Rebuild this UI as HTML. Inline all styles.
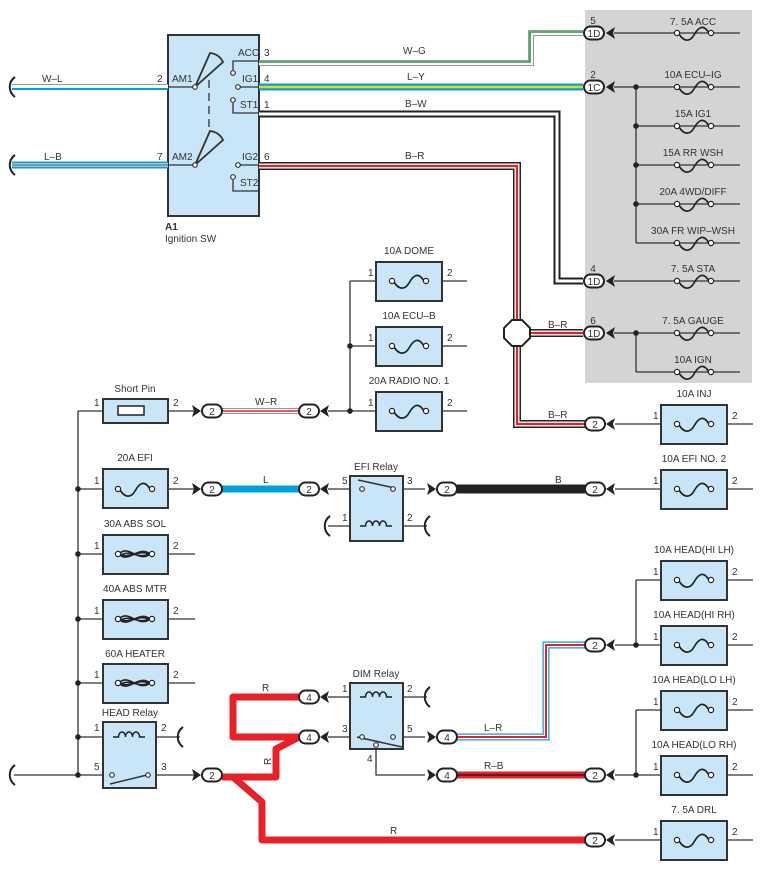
<!DOCTYPE html>
<html><head><meta charset="utf-8"><style>
html,body{margin:0;padding:0;background:#fff}
svg{display:block}
text{font-family:"Liberation Sans",sans-serif;font-size:10px;fill:#333}
</style></head><body>
<svg width="763" height="870" viewBox="0 0 763 870" xmlns="http://www.w3.org/2000/svg">
<defs>
<g id="fz"><path d="M-15,1 C-10,9 -4,9 0,2 S9,-10 15,0" fill="none" stroke="#222" stroke-width="1.7"/><circle cx="-17" cy="0" r="2.6" fill="#fff" stroke="#222" stroke-width="1.2"/><circle cx="17" cy="0" r="2.6" fill="#fff" stroke="#222" stroke-width="1.2"/></g>
<g id="hz"><path d="M-15,1 C-6,9 4,-9 15,0 M-15,-1 C-6,-9 4,9 15,0 M-15,0 C-6,6 5,-6 15,1 M-15,2 C-6,-6 5,7 15,-1" fill="none" stroke="#222" stroke-width="1.6"/><circle cx="-17" cy="0" r="2.6" fill="#fff" stroke="#222" stroke-width="1.2"/><circle cx="17" cy="0" r="2.6" fill="#fff" stroke="#222" stroke-width="1.2"/></g>
<g id="coil"><path d="M-16,0 H-10.5 a3.5,5 0 1 1 7,0 a3.5,5 0 1 1 7,0 a3.5,5 0 1 1 7,0 H16" fill="none" stroke="#222" stroke-width="1.5"/></g>
<rect id="pill" x="-10" y="-6.5" width="20" height="13" rx="6.5" fill="#fff" stroke="#222" stroke-width="2"/>
<polygon id="chL" points="0,0 9,-6 7,0 9,6" fill="#222"/>
<polygon id="chR" points="0,0 -9,-6 -7,0 -9,6" fill="#222"/>
<path id="brk" d="M3,-10 C-4,-5 -4,5 3,10" fill="none" stroke="#222" stroke-width="2"/>
</defs>

<rect x="585" y="10" width="167" height="373" fill="#d3d4d6"/>

<rect x="168" y="35" width="91" height="181" fill="#c8e6f7" stroke="#333" stroke-width="2"/>
<g stroke="#333" stroke-width="1.3" fill="none">
<line x1="168" y1="87" x2="195" y2="87"/><line x1="168" y1="165" x2="195" y2="165"/>
<path d="M195,87 L210,53 Q219,54 223,62 Z" fill="#c8e6f7" stroke-width="1.8"/>
<path d="M195,165 L210,131 Q219,132 223,140 Z" fill="#c8e6f7" stroke-width="1.8"/>
<line x1="209" y1="80" x2="209" y2="127" stroke-dasharray="8,5"/>
<path d="M259,61 H233 V70"/><line x1="240" y1="87" x2="259" y2="87"/>
<path d="M233,103 V113 H259"/><line x1="240" y1="165" x2="259" y2="165"/>
<path d="M233,180 V191 H259"/>
</g>
<g fill="#fff" stroke="#333" stroke-width="1.2">
<circle cx="195" cy="87" r="2.3"/><circle cx="195" cy="165" r="2.3"/>
<circle cx="233" cy="73" r="2.3"/><circle cx="238" cy="87" r="2.3"/><circle cx="233" cy="100" r="2.3"/>
<circle cx="238" cy="165" r="2.3"/><circle cx="233" cy="177" r="2.3"/>
</g>
<text x="172" y="82">AM1</text><text x="172" y="160">AM2</text>
<text x="157" y="82">2</text><text x="157" y="160">7</text>
<text x="238" y="56">ACC</text><text x="242" y="82">IG1</text><text x="240" y="108">ST1</text>
<text x="242" y="160">IG2</text><text x="240" y="186">ST2</text>
<text x="264" y="56">3</text><text x="264" y="82">4</text><text x="264" y="108">1</text><text x="264" y="160">6</text>
<text x="165" y="230" style="font-weight:bold">A1</text><text x="165" y="242">Ignition SW</text>

<path d="M12,87 H168" stroke="#999" stroke-width="6" fill="none"/><path d="M12,87 H168" stroke="#fff" stroke-width="4" fill="none"/><path d="M12,89 H168" stroke="#00a0e0" stroke-width="2" fill="none"/>
<path d="M12,165 H168" stroke="#00a0e0" stroke-width="7" fill="none"/><path d="M12,165 H168" stroke="#fff" stroke-width="3" fill="none"/><path d="M12,165 H168" stroke="#222" stroke-width="1" fill="none"/>
<use href="#brk" x="12" y="87"/><use href="#brk" x="12" y="165"/>
<text x="42" y="82">W–L</text><text x="44" y="160">L–B</text>

<g fill="none">
<path d="M259,63 H531 V33 H583" stroke="#999" stroke-width="6"/><path d="M259,63 H531 V33 H583" stroke="#fff" stroke-width="4"/><path d="M259,62 H530 V32 H583" stroke="#1a9a3a" stroke-width="1.6"/>
<path d="M259,87 H583" stroke="#00a0e0" stroke-width="7"/><path d="M259,87 H583" stroke="#f0d800" stroke-width="2.5"/>
<path d="M259,114 H557 V281 H583" stroke="#222" stroke-width="7"/><path d="M259,114 H557 V281 H583" stroke="#fff" stroke-width="3"/>
<path d="M259,166 H517 V424 H585" stroke="#222" stroke-width="8"/><path d="M259,166 H517 V424 H585" stroke="#fff" stroke-width="5"/><path d="M259,166 H517 V424 H585" stroke="#e8202a" stroke-width="2.2"/>
<path d="M517,333 H583" stroke="#222" stroke-width="8"/><path d="M517,333 H583" stroke="#fff" stroke-width="5"/><path d="M517,333 H583" stroke="#e8202a" stroke-width="2.2"/>
</g>
<polygon points="512,320 522,320 530,328 530,338 522,346 512,346 504,338 504,328" fill="#fff" stroke="#222" stroke-width="2"/>
<text x="403" y="54">W–G</text><text x="407" y="80">L–Y</text><text x="405" y="107">B–W</text><text x="405" y="159">B–R</text>
<text x="548" y="328">B–R</text><text x="548" y="418">B–R</text>

<g stroke="#333" stroke-width="1.3">
<line x1="614" y1="33" x2="740" y2="33"/><line x1="614" y1="87" x2="740" y2="87"/>
<line x1="636" y1="126" x2="740" y2="126"/><line x1="636" y1="165" x2="740" y2="165"/>
<line x1="636" y1="204" x2="740" y2="204"/><line x1="636" y1="243" x2="740" y2="243"/>
<line x1="636" y1="87" x2="636" y2="243"/>
<line x1="614" y1="281" x2="740" y2="281"/><line x1="614" y1="333" x2="740" y2="333"/>
<line x1="636" y1="372" x2="740" y2="372"/><line x1="636" y1="333" x2="636" y2="372"/>
</g>
<g fill="#222"><circle cx="636" cy="87" r="2.8"/><circle cx="636" cy="126" r="2.8"/><circle cx="636" cy="165" r="2.8"/><circle cx="636" cy="204" r="2.8"/><circle cx="636" cy="333" r="2.8"/></g>
<use href="#fz" x="694" y="33"/><use href="#fz" x="694" y="87"/><use href="#fz" x="694" y="126"/><use href="#fz" x="694" y="165"/><use href="#fz" x="694" y="204"/><use href="#fz" x="694" y="243"/><use href="#fz" x="694" y="281"/><use href="#fz" x="694" y="333"/><use href="#fz" x="694" y="372"/>
<use href="#pill" x="594" y="33"/><use href="#pill" x="594" y="87"/><use href="#pill" x="594" y="281"/><use href="#pill" x="594" y="333"/>
<use href="#chL" x="606" y="33"/><use href="#chL" x="606" y="87"/><use href="#chL" x="606" y="281"/><use href="#chL" x="606" y="333"/>
<g text-anchor="middle"><text x="594" y="37">1D</text><text x="594" y="91">1C</text><text x="594" y="285">1D</text><text x="594" y="337">1D</text>
<text x="593" y="24">5</text><text x="593" y="78">2</text><text x="593" y="272">4</text><text x="593" y="324">6</text>
<text x="693" y="25">7. 5A ACC</text><text x="693" y="78">10A ECU–IG</text><text x="693" y="117">15A IG1</text><text x="693" y="156">15A RR WSH</text><text x="693" y="195">20A 4WD/DIFF</text><text x="693" y="234">30A FR WIP–WSH</text><text x="693" y="272">7. 5A STA</text><text x="693" y="324">7. 5A GAUGE</text><text x="693" y="363">10A IGN</text></g>

<g stroke="#333" stroke-width="1.3">
<line x1="78" y1="411" x2="78" y2="775"/>
<line x1="78" y1="411" x2="200" y2="411"/><line x1="78" y1="489" x2="200" y2="489"/>
<line x1="78" y1="554" x2="195" y2="554"/><line x1="78" y1="619" x2="195" y2="619"/><line x1="78" y1="683" x2="195" y2="683"/>
<line x1="78" y1="737" x2="180" y2="737"/><line x1="14" y1="775" x2="200" y2="775"/>
</g>
<use href="#brk" x="12" y="775"/><use href="#brk" x="180" y="737"/>
<g fill="#222"><circle cx="78" cy="489" r="2.8"/><circle cx="78" cy="554" r="2.8"/><circle cx="78" cy="619" r="2.8"/><circle cx="78" cy="683" r="2.8"/><circle cx="78" cy="737" r="2.8"/><circle cx="78" cy="775" r="2.8"/></g>
<g fill="#c8e6f7" stroke="#333" stroke-width="2">
<rect x="103" y="399" width="65" height="24"/><rect x="103" y="469" width="65" height="39"/><rect x="103" y="535" width="65" height="39"/><rect x="103" y="600" width="65" height="39"/><rect x="103" y="664" width="65" height="39"/>
<rect x="103" y="722" width="53" height="66"/>
</g>
<rect x="118" y="406" width="26" height="9" fill="#fff" stroke="#222" stroke-width="1.5"/>
<use href="#fz" x="135" y="489"/><use href="#hz" x="135" y="554"/><use href="#hz" x="135" y="619"/><use href="#hz" x="135" y="683"/>
<use href="#coil" x="129" y="737"/>
<g stroke="#333" stroke-width="1.5" fill="none"><line x1="110" y1="784" x2="147" y2="775"/></g>
<g fill="#fff" stroke="#333" stroke-width="1.2"><circle cx="112" cy="775" r="2.3"/><circle cx="148" cy="775" r="2.3"/></g>
<g text-anchor="middle"><text x="135" y="392">Short Pin</text><text x="135" y="461">20A EFI</text><text x="135" y="527">30A ABS SOL</text><text x="135" y="592">40A ABS MTR</text><text x="135" y="657">60A HEATER</text><text x="130" y="716">HEAD Relay</text></g>
<text x="94" y="406">1</text><text x="173" y="406">2</text><text x="94" y="484">1</text><text x="173" y="484">2</text><text x="94" y="549">1</text><text x="173" y="549">2</text><text x="94" y="614">1</text><text x="173" y="614">2</text><text x="94" y="678">1</text><text x="173" y="678">2</text>
<text x="94" y="731">1</text><text x="161" y="731">2</text><text x="94" y="770">5</text><text x="161" y="770">3</text>

<g fill="none">
<path d="M222,411 H299" stroke="#999" stroke-width="6"/><path d="M222,411 H299" stroke="#fff" stroke-width="4"/><path d="M222,411 H299" stroke="#e8202a" stroke-width="1.5"/>
<path d="M222,489 H299" stroke="#00a0e0" stroke-width="7"/>
<path d="M457,489 H585" stroke="#222" stroke-width="9"/>
<path d="M457,737 H546 V645 H585" stroke="#00a0e0" stroke-width="7"/><path d="M457,737 H546 V645 H585" stroke="#fff" stroke-width="4.5"/><path d="M457,737 H546 V645 H585" stroke="#e8202a" stroke-width="2"/>
<path d="M457,775 H585" stroke="#e8202a" stroke-width="7"/><path d="M457,775 H585" stroke="#222" stroke-width="1.4"/>
<path d="M299,697 H233 V737 H299 M299,737 L276,749 V777 H222 M233,777 L262,802 V840 H585" stroke="#e8202a" stroke-width="7" stroke-linejoin="round"/>
</g>
<text x="255" y="405">W–R</text><text x="263" y="483">L</text><text x="555" y="483">B</text><text x="484" y="731">L–R</text><text x="484" y="769">R–B</text>
<text x="262" y="691">R</text><text x="390" y="834">R</text><text x="268" y="768" transform="rotate(-90 268 765)">R</text>

<g stroke="#333" stroke-width="1.3">
<line x1="350" y1="281" x2="467" y2="281"/><line x1="350" y1="346" x2="467" y2="346"/><line x1="328" y1="411" x2="467" y2="411"/>
<line x1="350" y1="281" x2="350" y2="411"/>
<line x1="328" y1="489" x2="350" y2="489"/><line x1="403" y1="489" x2="425" y2="489"/>
<line x1="328" y1="526" x2="427" y2="526"/>
<line x1="328" y1="697" x2="427" y2="697"/><line x1="328" y1="737" x2="425" y2="737"/>
<path d="M376,746 V775 H425" fill="none"/>
<line x1="615" y1="424" x2="753" y2="424"/><line x1="615" y1="489" x2="753" y2="489"/>
<line x1="615" y1="645" x2="753" y2="645"/><line x1="636" y1="580" x2="753" y2="580"/><line x1="636" y1="580" x2="636" y2="645"/>
<line x1="615" y1="775" x2="753" y2="775"/><line x1="636" y1="710" x2="753" y2="710"/><line x1="636" y1="710" x2="636" y2="775"/>
<line x1="615" y1="840" x2="753" y2="840"/>
</g>
<use href="#brk" x="327" y="526"/><use href="#brk" x="427" y="526"/><use href="#brk" x="427" y="697"/>
<g fill="#222"><circle cx="350" cy="346" r="2.8"/><circle cx="350" cy="411" r="2.8"/><circle cx="636" cy="645" r="2.8"/><circle cx="636" cy="775" r="2.8"/></g>
<g fill="#c8e6f7" stroke="#333" stroke-width="2">
<rect x="376" y="262" width="66" height="39"/><rect x="376" y="327" width="66" height="39"/><rect x="376" y="392" width="66" height="39"/>
<rect x="350" y="476" width="53" height="65"/><rect x="350" y="683" width="53" height="66"/>
<rect x="661" y="405" width="66" height="39"/><rect x="661" y="470" width="66" height="39"/>
<rect x="661" y="561" width="66" height="39"/><rect x="661" y="626" width="66" height="39"/><rect x="661" y="691" width="66" height="39"/><rect x="661" y="756" width="66" height="39"/><rect x="661" y="821" width="66" height="39"/>
</g>
<use href="#fz" x="409" y="281"/><use href="#fz" x="409" y="346"/><use href="#fz" x="409" y="411"/>
<use href="#fz" x="694" y="424"/><use href="#fz" x="694" y="489"/><use href="#fz" x="694" y="580"/><use href="#fz" x="694" y="645"/><use href="#fz" x="694" y="710"/><use href="#fz" x="694" y="775"/><use href="#fz" x="694" y="840"/>
<use href="#coil" x="376" y="526"/><use href="#coil" x="376" y="697"/>
<g stroke="#333" stroke-width="1.5"><line x1="358" y1="480" x2="395" y2="488"/><line x1="357" y1="737" x2="402" y2="747"/></g>
<g fill="#fff" stroke="#333" stroke-width="1.2"><circle cx="362" cy="489" r="2.3"/><circle cx="393" cy="489" r="2.3"/><circle cx="362" cy="737" r="2.3"/><circle cx="393" cy="737" r="2.3"/><circle cx="376" cy="745" r="2.3"/></g>
<g text-anchor="middle"><text x="409" y="254">10A DOME</text><text x="409" y="319">10A ECU–B</text><text x="409" y="384">20A RADIO NO. 1</text>
<text x="376" y="470">EFI Relay</text><text x="376" y="677">DIM Relay</text>
<text x="694" y="397">10A INJ</text><text x="694" y="462">10A EFI NO. 2</text><text x="694" y="553">10A HEAD(HI LH)</text><text x="694" y="618">10A HEAD(HI RH)</text><text x="694" y="683">10A HEAD(LO LH)</text><text x="694" y="748">10A HEAD(LO RH)</text><text x="694" y="813">7. 5A DRL</text></g>
<text x="368" y="276">1</text><text x="447" y="276">2</text><text x="368" y="341">1</text><text x="447" y="341">2</text><text x="368" y="406">1</text><text x="447" y="406">2</text>
<text x="342" y="484">5</text><text x="407" y="484">3</text><text x="342" y="521">1</text><text x="407" y="521">2</text>
<text x="342" y="692">1</text><text x="407" y="692">2</text><text x="342" y="732">3</text><text x="407" y="732">5</text><text x="367" y="762">4</text>
<text x="653" y="419">1</text><text x="732" y="419">2</text><text x="653" y="484">1</text><text x="732" y="484">2</text><text x="653" y="575">1</text><text x="732" y="575">2</text><text x="653" y="640">1</text><text x="732" y="640">2</text><text x="653" y="705">1</text><text x="732" y="705">2</text><text x="653" y="770">1</text><text x="732" y="770">2</text><text x="653" y="835">1</text><text x="732" y="835">2</text>

<use href="#chR" x="201" y="411"/><use href="#pill" x="212" y="411"/>
<use href="#pill" x="309" y="411"/><use href="#chL" x="320" y="411"/>
<use href="#chR" x="201" y="489"/><use href="#pill" x="212" y="489"/>
<use href="#pill" x="309" y="489"/><use href="#chL" x="320" y="489"/>
<use href="#chR" x="436" y="489"/><use href="#pill" x="447" y="489"/>
<use href="#pill" x="595" y="489"/><use href="#chL" x="606" y="489"/>
<use href="#pill" x="595" y="424"/><use href="#chL" x="606" y="424"/>
<use href="#pill" x="595" y="645"/><use href="#chL" x="606" y="645"/>
<use href="#pill" x="595" y="775"/><use href="#chL" x="606" y="775"/>
<use href="#pill" x="595" y="840"/><use href="#chL" x="606" y="840"/>
<use href="#pill" x="309" y="697"/><use href="#chL" x="320" y="697"/>
<use href="#pill" x="309" y="737"/><use href="#chL" x="320" y="737"/>
<use href="#chR" x="436" y="737"/><use href="#pill" x="447" y="737"/>
<use href="#chR" x="436" y="775"/><use href="#pill" x="447" y="775"/>
<use href="#chR" x="201" y="775"/><use href="#pill" x="212" y="775"/>
<g text-anchor="middle">
<text x="212" y="415">2</text><text x="309" y="415">2</text><text x="212" y="493">2</text><text x="309" y="493">2</text><text x="447" y="493">2</text><text x="595" y="493">2</text>
<text x="595" y="428">2</text><text x="595" y="649">2</text><text x="595" y="779">2</text><text x="595" y="844">2</text>
<text x="309" y="701">4</text><text x="309" y="741">4</text><text x="447" y="741">4</text><text x="447" y="779">4</text><text x="212" y="779">2</text>
</g>
</svg>
</body></html>
